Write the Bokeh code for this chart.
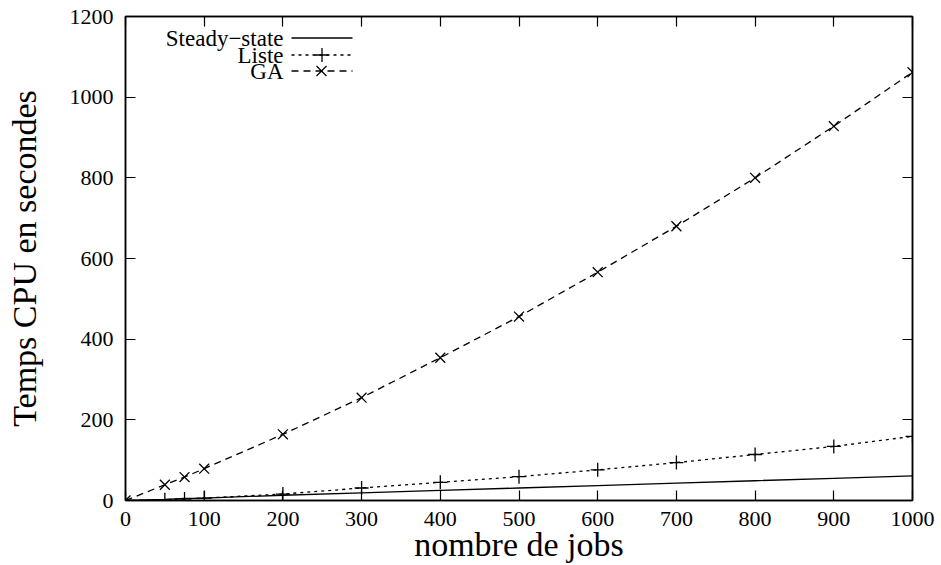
from bokeh.plotting import figure
from bokeh.models import (LinearAxis, FixedTicker, Label, PolyAnnotation, Range1d)
from bokeh.embed import file_html
from bokeh.resources import INLINE

# Temps CPU (s) selon le nombre de jobs
jobs = [0, 50, 75, 100, 200, 300, 400, 500, 600, 700, 800, 900, 1000]
steady_state = [0, 3, 5, 6, 13, 19, 25, 31, 37, 43, 49, 55, 61]
liste = [0, 2, 4, 6, 16, 31, 45, 59, 76, 94, 114, 134, 159]
ga = [0, 39, 58, 79, 164, 255, 354, 456, 566, 680, 800, 928, 1062]

x_ticks = [0, 100, 200, 300, 400, 500, 600, 700, 800, 900, 1000]
y_ticks = [0, 200, 400, 600, 800, 1000, 1200]

series_names = ["Steady\u2212state", "Liste", "GA"]
x_title = "nombre de jobs"
y_title = "Temps CPU en secondes"

FONT = "Liberation Serif"

p = figure(width=941, height=565, output_backend="svg", toolbar_location=None,
           x_range=Range1d(0, 1000), y_range=Range1d(0, 1200),
           min_border_left=125, min_border_right=29,
           min_border_top=16, min_border_bottom=63)
p.background_fill_color = "white"
p.border_fill_color = "white"
p.outline_line_color = "black"
p.outline_line_width = 1.5
p.grid.visible = False

# curves
p.line(jobs, steady_state, line_color="black", line_width=1.3)
p.line(jobs, liste, line_color="black", line_width=1.3, line_dash="3 4")
p.scatter(jobs, liste, marker="cross", size=14, line_color="black", line_width=1.3)
p.line(jobs, ga, line_color="black", line_width=1.3, line_dash="7 5")
p.scatter(jobs, ga, marker="x", size=14, line_color="black", line_width=1.3)


def style_axis(ax, ticks, labels=True, standoff=8):
    ax.ticker = FixedTicker(ticks=ticks)
    ax.major_tick_in = 10
    ax.major_tick_out = 0
    ax.minor_tick_in = 0
    ax.minor_tick_out = 0
    ax.major_tick_line_color = "black"
    ax.major_tick_line_width = 1.2
    ax.axis_line_color = "black"
    ax.axis_line_width = 1.5
    ax.major_label_text_font = FONT
    ax.major_label_text_color = "black"
    ax.major_label_text_font_size = "22px"
    if labels:
        ax.major_label_standoff = standoff
    else:
        ax.major_label_overrides = {t: "" for t in ticks}
        ax.major_label_standoff = 0


style_axis(p.xaxis[0], x_ticks, standoff=11)
style_axis(p.yaxis[0], y_ticks, standoff=12)

for ax, title, standoff in ((p.xaxis[0], x_title, -3), (p.yaxis[0], y_title, 24)):
    ax.axis_label = title
    ax.axis_label_text_font = FONT
    ax.axis_label_text_font_size = "34px"
    ax.axis_label_text_font_style = "normal"
    ax.axis_label_text_color = "black"
    ax.axis_label_standoff = standoff

# mirrored ticks on top and right
top_axis = LinearAxis()
right_axis = LinearAxis()
style_axis(top_axis, x_ticks, labels=False)
style_axis(right_axis, y_ticks, labels=False)
p.add_layout(top_axis, "above")
p.add_layout(right_axis, "right")

# key in the top-left corner: text, then line sample
row_y = [462, 445, 429]
text_right = 158
sample_x0, sample_x1, mark_x = 166, 227, 196
dashes = [None, "3 4", "7 5"]

for name, y, dash in zip(series_names, row_y, dashes):
    p.add_layout(Label(x=text_right, y=y, x_units="screen", y_units="screen",
                       text=name, text_font=FONT, text_font_size="23px",
                       text_align="right", text_baseline="middle",
                       text_color="black"))
    kw = dict(xs_units="screen", ys_units="screen", fill_alpha=0,
              line_color="black", line_alpha=1.0, line_width=1.3)
    if dash:
        kw["line_dash"] = dash
    p.add_layout(PolyAnnotation(xs=[sample_x0, sample_x1], ys=[y + 0.5, y + 0.5], **kw))

# legend markers
plus_y = row_y[1] + 0.5
cross_y = row_y[2] + 0.5
seg = dict(xs_units="screen", ys_units="screen", fill_alpha=0,
           line_color="black", line_alpha=1.0, line_width=1.3)
p.add_layout(PolyAnnotation(xs=[mark_x - 7, mark_x + 7], ys=[plus_y, plus_y], **seg))
p.add_layout(PolyAnnotation(xs=[mark_x + 0.5, mark_x + 0.5], ys=[plus_y - 7, plus_y + 7], **seg))
p.add_layout(PolyAnnotation(xs=[mark_x - 5, mark_x + 5], ys=[cross_y - 5, cross_y + 5], **seg))
p.add_layout(PolyAnnotation(xs=[mark_x - 5, mark_x + 5], ys=[cross_y + 5, cross_y - 5], **seg))

open("out.html", "w").write(file_html(p, INLINE))
